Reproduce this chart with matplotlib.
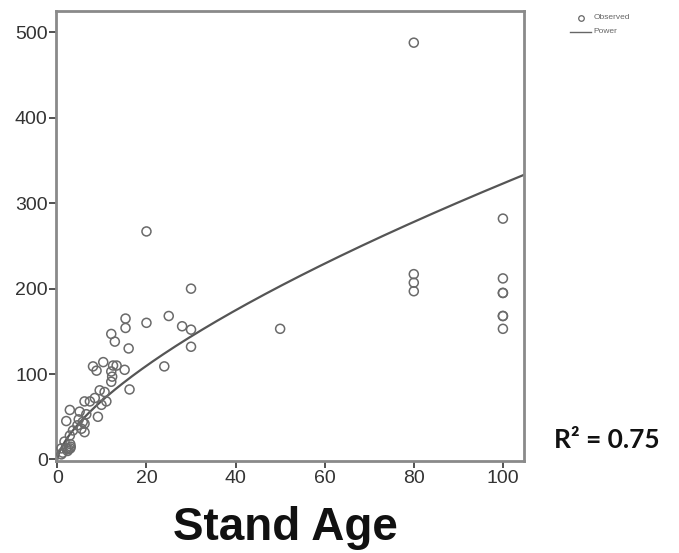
import numpy as np
import matplotlib
matplotlib.use('Agg')
import matplotlib.pyplot as plt

# observed points (stand age, value)
age = [0.9, 1.2, 0.9, 2.3, 2.0, 2.9, 3.0, 2.5, 2.9, 1.6, 2.8, 3.5, 5.4, 6.1,
       6.1, 4.8, 2.0, 4.5, 5.7, 6.5, 9.1, 5.0, 2.8, 9.9, 6.1, 7.3, 11.0, 8.4,
       9.5, 10.6, 16.2, 12.1, 12.3, 12.1, 12.5, 13.3, 15.1, 8.0, 8.8, 10.3,
       12.1, 12.9, 16.0, 15.3, 15.3, 20, 20, 25, 28, 30, 30, 30, 24, 50,
       80, 80, 80, 80, 100, 100, 100, 100, 100, 100, 100]
value = [6, 8, 13, 10, 13, 13, 15, 12, 18, 21, 28, 34, 36, 32,
         42, 47, 45, 40, 44, 53, 50, 56, 58, 64, 68, 68, 68, 72,
         81, 79, 82, 91, 97, 103, 110, 110, 105, 109, 104, 114,
         147, 138, 130, 165, 154, 267, 160, 168, 156, 152, 132, 200, 109, 153,
         488, 217, 207, 197, 282, 212, 195, 195, 168, 168, 153]

# power fit y = a * x^b (coefficients estimated from the drawn curve)
fit_a = 14.7
fit_b = 0.671
r2_text = "R\u00b2 = 0.75"

xticks = [0, 20, 40, 60, 80, 100]
yticks = [0, 100, 200, 300, 400, 500]

plt.rcParams['font.family'] = ['Liberation Sans', 'DejaVu Sans']

fig = plt.figure(figsize=(6.79, 5.53), dpi=100)
ax = fig.add_axes([0.0825, 0.166, 0.689, 0.814])

ax.scatter(age, value, s=42, facecolors='none', edgecolors='#6a6a6a',
           linewidths=1.1, zorder=3)
xs = np.linspace(0, 104.7, 300)
ax.plot(xs, fit_a * xs ** fit_b, color='#555555', lw=1.6, zorder=2)

ax.set_xlim(-0.3, 104.7)
ax.set_ylim(-2, 525)
ax.set_xticks(xticks)
ax.set_yticks(yticks)
ax.tick_params(labelsize=14, colors='#333333', length=5, width=1.2, pad=1)
for sp in ax.spines.values():
    sp.set_color('#8a8a8a')
    sp.set_linewidth(2)

fig.text(0.42, 0.005, 'Stand Age', fontsize=33, fontweight='bold',
         ha='center', va='bottom', color='#111111')
fig.text(0.816, 0.204, r2_text, fontsize=19, fontweight='bold',
         family=['Lato', 'DejaVu Sans'], ha='left', va='center', color='#111111')

# small legend at top right
fig.add_artist(plt.Line2D([0.855], [0.968], marker='o', ms=4, mfc='none',
                          mec='#666666', mew=0.9, ls='none'))
fig.text(0.874, 0.968, 'Observed', fontsize=6, color='#666666', va='center')
fig.add_artist(plt.Line2D([0.84, 0.870], [0.943, 0.943], color='#666666', lw=1))
fig.text(0.874, 0.943, 'Power', fontsize=6, color='#666666', va='center')

plt.savefig('out.png', dpi=100)
